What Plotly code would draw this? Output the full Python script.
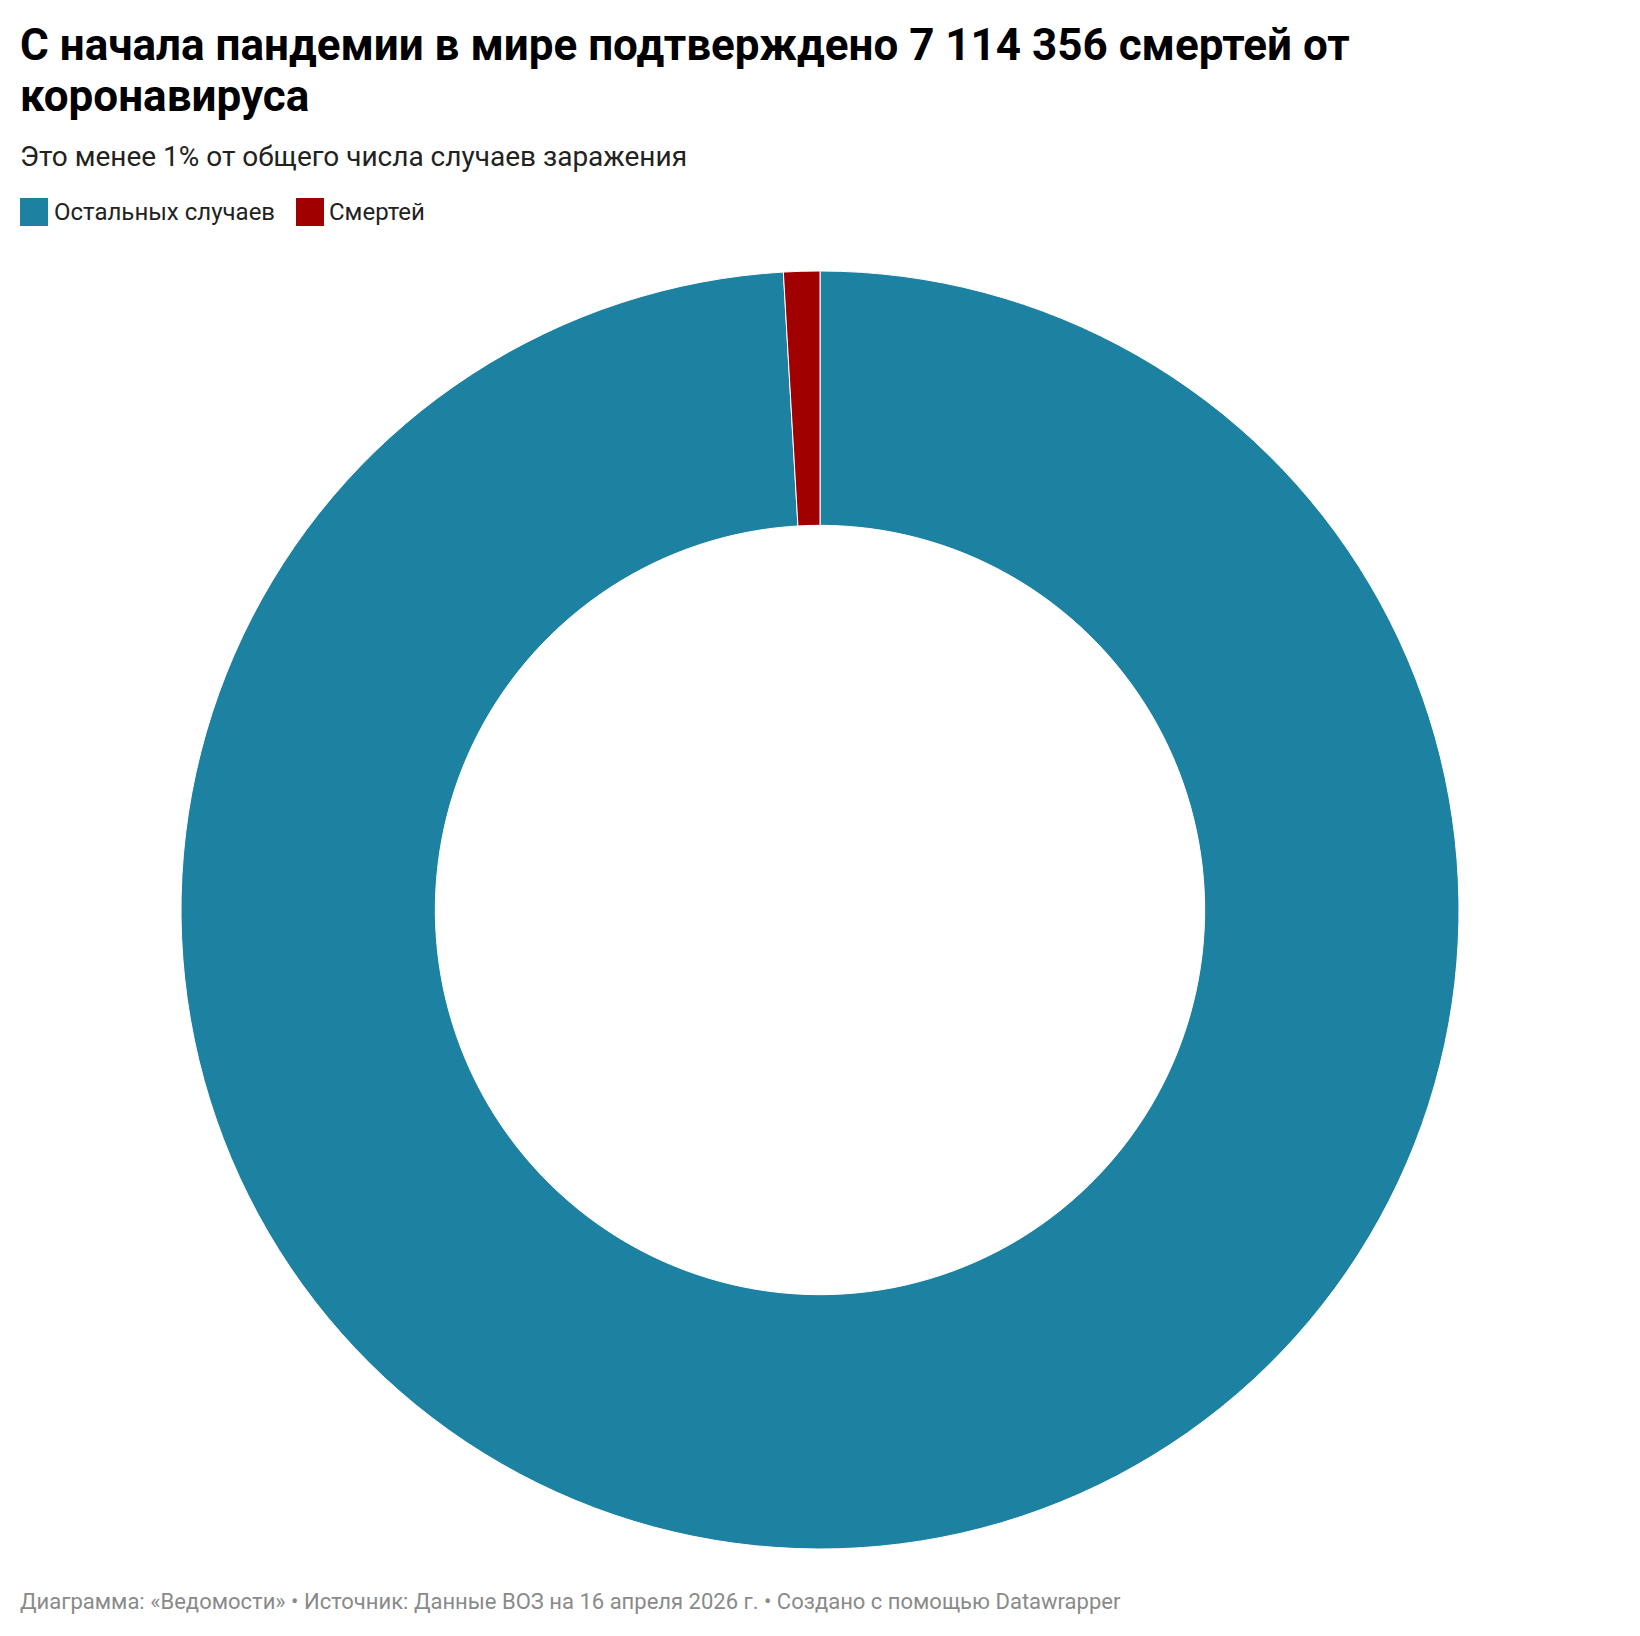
import plotly.graph_objects as go

# ---- data ----
labels = ["Остальных случаев", "Смертей"]
values = [771_700_000, 7_114_356]
colors = ["#1d81a2", "#a00000"]

title_lines = ["С начала пандемии в мире подтверждено 7 114 356 смертей от", "коронавируса"]
subtitle_text = "Это менее 1% от общего числа случаев заражения"
footer_text = "Диаграмма: «Ведомости» • Источник: Данные ВОЗ на 16 апреля 2026 г. • Создано с помощью Datawrapper"

W, H = 1640, 1636
OFF = 8  # default page body margin in the exported html
cx, cy, R = 820 - OFF, 910 - OFF, 639

fig = go.Figure()
fig.add_trace(go.Pie(
    labels=labels,
    values=values,
    hole=0.602,
    sort=False,
    direction="clockwise",
    rotation=0,
    marker=dict(colors=colors, line=dict(color="white", width=1)),
    textinfo="none",
    hoverinfo="label+value",
    showlegend=False,
    domain=dict(x=[(cx - R) / W, (cx + R) / W],
                y=[(H - cy - R) / H, (H - cy + R) / H]),
))

def px_x(x):
    return (x - OFF) / W

def px_y(y):
    return 1 - (y - OFF) / H

annotations = []
for line, top in zip(title_lines, [17, 68]):
    annotations.append(dict(text="<b>" + line + "</b>", x=px_x(18), y=px_y(top),
                            xanchor="left", yanchor="top", showarrow=False, align="left",
                            font=dict(family="Roboto", size=44, color="#000000")))
annotations += [
    dict(text=subtitle_text, x=px_x(18), y=px_y(138), xanchor="left", yanchor="top",
         showarrow=False, align="left",
         font=dict(family="Roboto", size=28, color="#222222")),
    dict(text=footer_text, x=px_x(18), y=px_y(1587), xanchor="left", yanchor="top",
         showarrow=False, align="left",
         font=dict(family="Roboto", size=22, color="#8a8a8a")),
]

shapes = []
legend_items = [(20, 52), (296, 327)]
for (sq_x, tx_x), lab, col in zip(legend_items, labels, colors):
    shapes.append(dict(type="rect", xref="paper", yref="paper",
                       x0=px_x(sq_x), x1=px_x(sq_x + 28), y0=px_y(226), y1=px_y(198),
                       fillcolor=col, line=dict(width=0)))
    annotations.append(dict(text=lab, x=px_x(tx_x), y=px_y(212), xanchor="left", yanchor="middle",
                            showarrow=False, align="left",
                            font=dict(family="Roboto", size=24, color="#222222")))

fig.update_layout(
    width=W, height=H,
    margin=dict(l=0, r=0, t=0, b=0),
    paper_bgcolor="white",
    plot_bgcolor="white",
    annotations=annotations,
    shapes=shapes,
    showlegend=False,
)

fig.write_html("out.html")
